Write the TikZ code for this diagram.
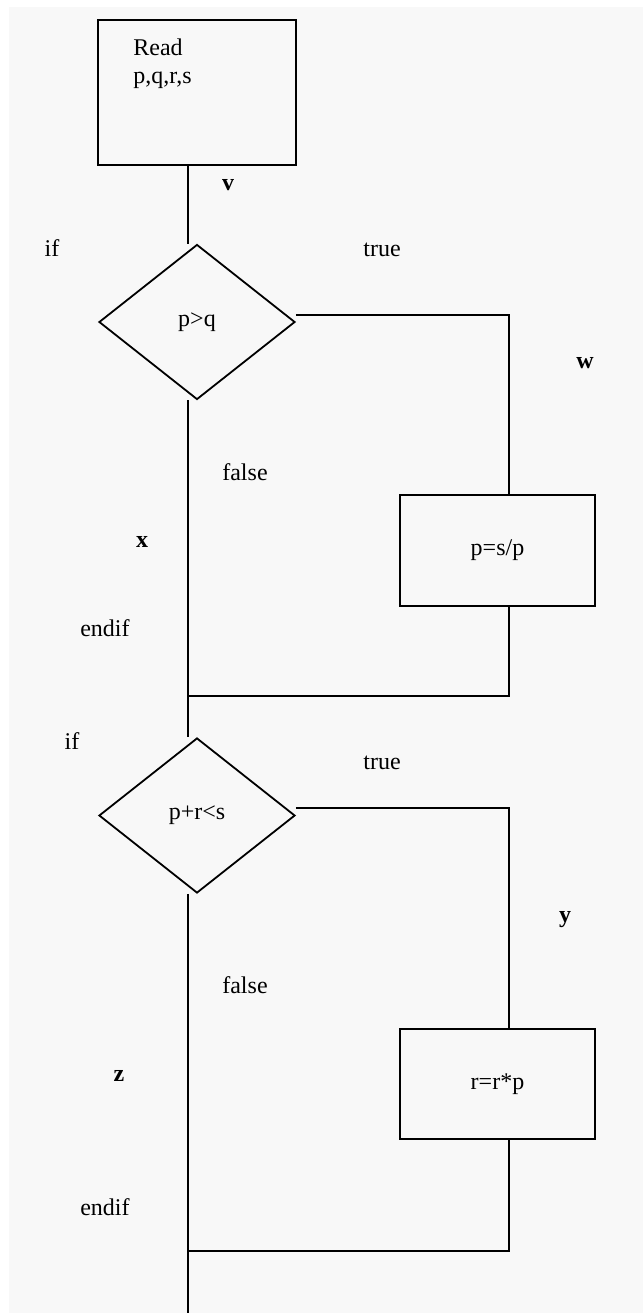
\documentclass[tikz,border=0pt]{standalone}
\usepackage{fontspec}
\setmainfont{Liberation Serif}
\usetikzlibrary{shapes.geometric}
\definecolor{paper}{RGB}{248,248,248}
\begin{document}
\begin{tikzpicture}[x=0.5pt, y=-0.5pt,
		every node/.style={font=\fontsize{12}{14}\selectfont},
		box/.style={draw, rectangle, line width=.9pt, inner sep=0pt},
		cond/.style={draw, diamond, line width=.9pt, inner sep=0pt, minimum width=98pt, minimum height=77.5pt},
		lbl/.style={font=\bfseries\fontsize{12}{14}\selectfont},
		flow/.style={line width=.9pt}]
		\useasboundingbox (0, 0) rectangle (643, 1313);
		\fill[white] (0, 0) rectangle (643, 1313);
		\fill[paper] (9, 7) rectangle (643, 1313);
		% boxes and tests
		\node[box, minimum width=99pt, minimum height=72.5pt](read) at (197, 92.5){};
		\node[anchor=north west, align=left, inner sep=0pt](readtxt) at (133, 38){Read\\p,q,r,s};
		\node[cond](c1) at (197, 322){p>q};
		\node[box, minimum width=97.5pt, minimum height=55.5pt](s1) at (497.5, 550.5){p=s/p};
		\node[cond](c2) at (197, 815.5){p+r<s};
		\node[box, minimum width=97.5pt, minimum height=55pt](s2) at (497.5, 1084){r=r*p};
		% joins
		\coordinate (m1) at (188, 696);
		\coordinate (m2) at (188, 1251);
		\coordinate (fin) at (188, 1313);
		\coordinate (r1) at (509, 315);
		\coordinate (r2) at (509, 808);
		% lines
		\draw[flow](read.south -| m1)--(c1.north -| m1);
		\draw[flow](c1.south -| m1)--(c2.north -| m1);
		\draw[flow](c1.east |- r1)--(r1)--(r1 |- s1.north);
		\draw[flow](r1 |- s1.south)|-(m1);
		\draw[flow](c2.south -| m1)--(fin);
		\draw[flow](c2.east |- r2)--(r2)--(r2 |- s2.north);
		\draw[flow](r2 |- s2.south)|-(m2);
		% labels
		\node[lbl](v) at (228, 185){v};
		\node(if1) at (52, 248){if};
		\node(t1) at (382, 250){true};
		\node[lbl](w) at (585, 363){w};
		\node(f1) at (245, 472){false};
		\node[lbl](x) at (142, 542){x};
		\node(e1) at (105, 628){endif};
		\node(if2) at (72, 741){if};
		\node(t2) at (382, 763){true};
		\node[lbl](y) at (565, 920){y};
		\node(f2) at (245, 985){false};
		\node[lbl](z) at (119, 1076){z};
		\node(e2) at (105, 1207){endif};
	\end{tikzpicture}
\end{document}
